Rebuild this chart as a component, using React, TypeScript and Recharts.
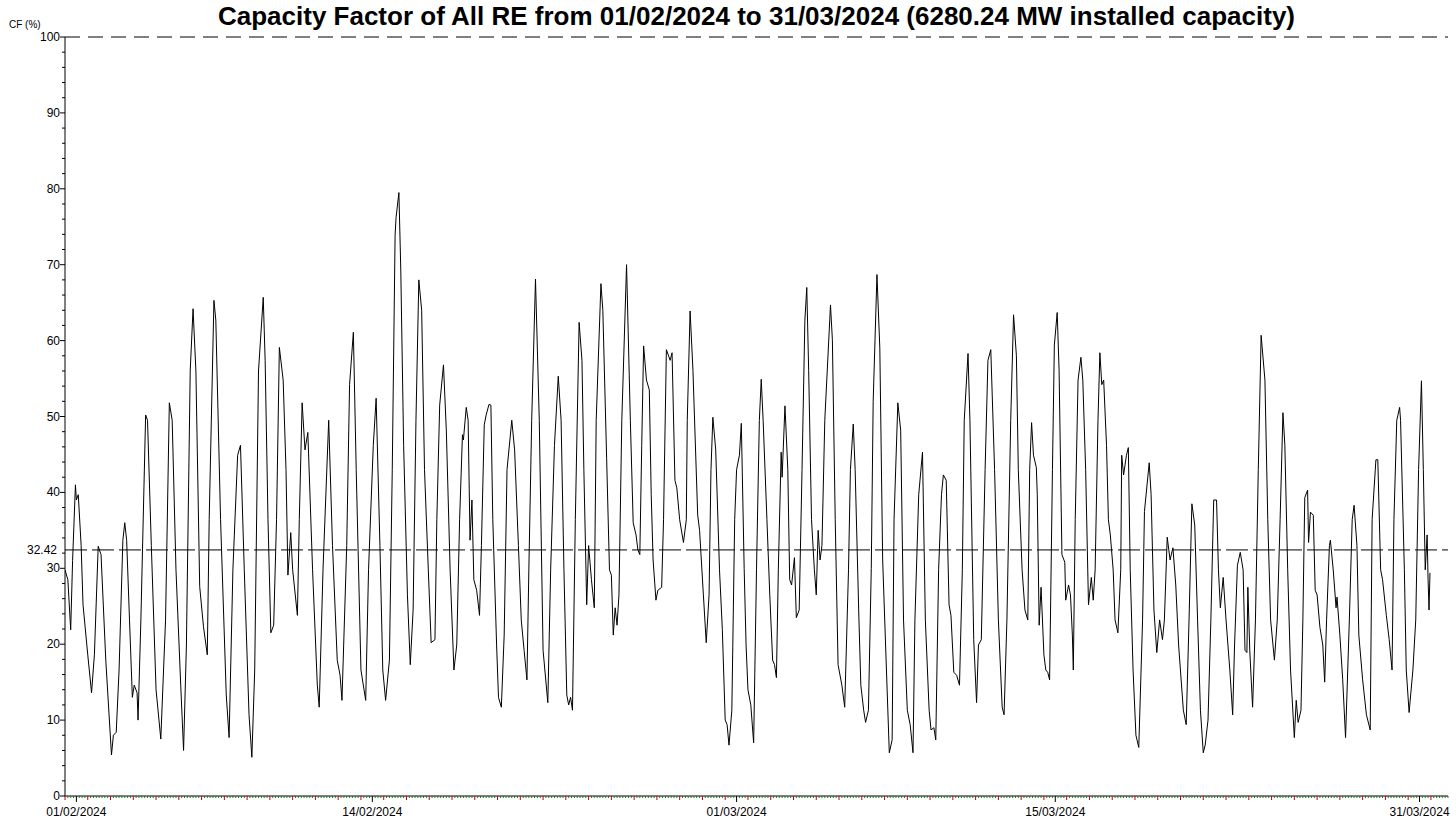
import { Line, LineChart, ReferenceLine, XAxis, YAxis } from "recharts";

// hours since 01/02/2024 00:00
const hours = [
  0, 3, 6, 8, 11, 12, 14, 17, 19, 24, 28, 31, 35, 38, 43, 49, 51, 54, 57, 61,
  63, 65, 68, 71, 73, 76, 77, 80, 85, 87, 91, 96, 101, 106, 110, 113, 117, 122, 125, 128,
  132, 135, 138, 142, 146, 150, 152, 157, 159, 164, 170, 173, 177, 182, 185, 189, 194, 197, 200, 204,
  209, 211, 214, 217, 220, 223, 226, 230, 233, 235, 238, 240, 245, 247, 250, 253, 256, 261, 266, 268,
  272, 278, 282, 287, 290, 292, 297, 300, 304, 307, 312, 317, 320, 325, 328, 332, 335, 338, 342, 345,
  348, 349, 352, 354, 357, 361, 364, 367, 370, 373, 376, 379, 383, 386, 390, 392, 395, 399, 402, 406,
  410, 413, 416, 419, 420, 423, 425, 427, 429, 431, 434, 437, 439, 442, 444, 447, 449, 451, 455, 457,
  460, 463, 466, 471, 474, 478, 481, 484, 487, 489, 492, 496, 500, 504, 509, 512, 516, 520, 523, 526,
  529, 531, 533, 535, 538, 542, 545, 547, 550, 552, 555, 558, 560, 565, 567, 571, 574, 576, 578, 580,
  582, 584, 587, 592, 596, 599, 602, 604, 606, 608, 610, 613, 616, 618, 620, 623, 625, 629, 631, 634,
  636, 638, 640, 643, 645, 648, 652, 655, 656, 659, 662, 667, 669, 673, 676, 679, 681, 683, 686, 690,
  693, 696, 698, 700, 703, 706, 708, 711, 713, 716, 718, 720, 723, 726, 729, 732, 734, 736, 740, 743,
  746, 748, 750, 752, 755, 756, 759, 762, 764, 766, 769, 771, 774, 777, 780, 782, 784, 787, 790, 792,
  794, 796, 798, 801, 807, 809, 812, 815, 819, 822, 826, 828, 831, 833, 837, 839, 842, 844, 847, 850,
  852, 856, 859, 862, 866, 869, 872, 874, 878, 881, 884, 888, 891, 894, 896, 900, 904, 907, 911, 913,
  916, 918, 921, 924, 926, 929, 932, 934, 937, 940, 943, 946, 948, 952, 954, 958, 961, 963, 966, 970,
  973, 976, 980, 984, 988, 990, 993, 997, 1000, 1003, 1005, 1009, 1012, 1015, 1017, 1019, 1021, 1024, 1025, 1027,
  1029, 1032, 1034, 1036, 1038, 1041, 1043, 1046, 1048, 1051, 1054, 1055, 1058, 1060, 1062, 1063, 1065, 1068, 1071, 1073,
  1076, 1079, 1082, 1084, 1086, 1089, 1091, 1093, 1095, 1098, 1100, 1102, 1105, 1107, 1110, 1113, 1114, 1116, 1119, 1121,
  1123, 1126, 1129, 1132, 1136, 1138, 1143, 1145, 1148, 1151, 1154, 1157, 1159, 1162, 1165, 1168, 1171, 1174, 1179, 1182,
  1185, 1188, 1191, 1194, 1197, 1200, 1202, 1205, 1208, 1211, 1214, 1216, 1218, 1221, 1224, 1226, 1228, 1231, 1233, 1236,
  1239, 1242, 1244, 1246, 1247, 1249, 1252, 1255, 1258, 1261, 1265, 1268, 1271, 1275, 1278, 1281, 1284, 1286, 1289, 1292,
  1296, 1298, 1300, 1303, 1305, 1307, 1310, 1311, 1313, 1316, 1318, 1320, 1323, 1326, 1328, 1330, 1333, 1334, 1337, 1340,
  1341, 1344, 1347, 1350, 1354, 1357, 1359, 1362, 1364, 1368, 1372, 1376, 1378, 1382, 1384, 1387, 1389, 1393, 1396, 1399,
  1401, 1404, 1407, 1408, 1412, 1414, 1417, 1421, 1424, 1427, 1430, 1432, 1434, 1436, 1437, 1438, 1439,
];

// capacity factor (%)
const cf = [
  29.8, 28.5, 21.9, 31, 41, 39, 39.7, 33, 25.2, 18.6, 13.6, 18.6, 32.9, 31.8, 17.9, 5.4, 8, 8.4, 16.6, 33.7,
  36, 33.7, 23.2, 13, 14.6, 13.6, 10, 23.2, 50.2, 49.5, 33, 14, 7.5, 23.2, 51.8, 49.5, 29.8, 14.6, 6, 19.9,
  56, 64.2, 56, 27.6, 22.3, 18.6, 36.4, 65.3, 62.7, 36.4, 13.3, 7.7, 29.8, 44.9, 46.2, 29.8, 10.7, 5.1, 16.6, 56,
  65.7, 57.4, 36.4, 21.5, 22.5, 36.4, 59.1, 54.8, 43, 29.1, 34.7, 29.8, 23.8, 36.4, 51.8, 45.6, 47.9, 29.8, 14.6, 11.7,
  29.8, 49.5, 33, 17.9, 15.9, 12.6, 33, 54.2, 61.1, 43, 16.6, 12.6, 29.8, 46.2, 52.4, 33, 16.6, 12.6, 17.9, 43,
  73.9, 76.2, 79.5, 69.3, 46.2, 26.5, 17.3, 24.5, 49.5, 68, 64, 43, 29.8, 20.2, 20.6, 36.4, 51.5, 56.8, 48.2, 29.8,
  16.6, 19.9, 36.4, 47.6, 46.9, 51.2, 49.5, 33.7, 39, 28.5, 27.1, 23.8, 33, 48.9, 50.2, 51.6, 51.5, 36.4, 19.9, 13,
  11.7, 21.2, 43, 49.5, 45.6, 33, 23.2, 19.2, 15.3, 29.8, 49.5, 68.1, 49.5, 19.2, 12.3, 29.8, 46.2, 55.3, 49.5, 29.8,
  13.3, 12, 13, 11.3, 36.4, 62.4, 57.4, 43, 25.2, 33, 28.5, 24.8, 49.5, 67.5, 64, 44.5, 29.8, 29.1, 21.2, 24.8,
  22.5, 26.5, 49.5, 70, 49.5, 36, 34.4, 32.4, 31.8, 46.2, 59.3, 54.8, 53.5, 39.7, 31.1, 25.8, 27.1, 27.5, 36.4, 58.8,
  58.1, 57.4, 58.4, 41.6, 40.6, 36.4, 33.4, 36.4, 49.5, 63.9, 56.1, 37, 35, 26.5, 20.2, 26.5, 43, 49.9, 45.6, 29.8,
  21.9, 10, 9.4, 6.7, 11.3, 36.4, 43, 44.9, 49.1, 30, 19.9, 14, 12, 7, 29.8, 49.5, 54.9, 49.5, 36.4, 26.5,
  17.9, 17.3, 15.6, 29.8, 45.3, 42, 51.4, 43, 28.5, 27.8, 31.4, 23.5, 24.5, 43, 62.7, 67, 56.1, 36.4, 29.8, 26.5,
  35, 31.1, 33, 49.5, 64.7, 60.1, 36.4, 17.3, 14.6, 11.7, 29.8, 43, 49, 43, 23.2, 14.6, 11.3, 9.7, 11.3, 30,
  52, 68.7, 59, 31.1, 16.6, 5.7, 7.4, 36.4, 51.8, 48.2, 23.2, 11.3, 9.4, 5.7, 23.2, 39.7, 45.3, 23.2, 11.3, 8.7,
  9, 7.4, 29.8, 39.7, 42.3, 41.6, 25.2, 23.8, 16.3, 15.9, 14.6, 29.8, 49.5, 58.3, 49.5, 20.6, 12.3, 19.9, 20.6, 43,
  57.4, 58.8, 43, 23.2, 11.7, 10.7, 23.2, 49.5, 63.4, 58, 43, 29.8, 24.5, 23.2, 43, 49.2, 44.9, 43.3, 39.7, 22.5,
  27.5, 18.6, 16.6, 16.3, 15.3, 43, 59.4, 63.7, 56.1, 31.8, 30.8, 25.8, 27.8, 26.5, 21.2, 16.6, 36.4, 54.8, 57.8, 54.8,
  43, 25.2, 28.8, 25.8, 29.8, 49.5, 58.4, 54.2, 54.8, 46.2, 36.4, 34.4, 29.8, 23.2, 21.5, 29.8, 44.9, 42.3, 44.9, 45.9,
  29.8, 16.6, 8, 6.4, 23.2, 37.5, 43.9, 39.7, 24.5, 18.9, 23.2, 20.6, 23.2, 34.1, 31.1, 32.7, 27.8, 19.9, 11.3, 9.4,
  23.2, 38.5, 35.7, 23.2, 11.3, 5.7, 6.7, 10, 23.2, 39, 39, 29.8, 24.8, 28.8, 23.2, 19.9, 16.6, 10.7, 19.9, 30.4,
  32.1, 29.8, 19.2, 18.9, 27.5, 19.2, 11.7, 23.2, 43, 60.7, 54.8, 36.4, 23.2, 17.9, 23.2, 36.4, 50.5, 46.2, 29.8, 16.6,
  7.7, 12.6, 9.7, 11.3, 23.2, 39.3, 40.3, 33.4, 37.4, 37, 27.1, 26.5, 22.2, 19.9, 15, 23.2, 33, 33.7, 29.8, 24.8,
  26.2, 21.2, 15.3, 7.7, 23.2, 36.4, 38.3, 33, 21.2, 15.3, 10.7, 8.7, 36.4, 44.3, 44.3, 29.8, 28.5, 23.8, 20.6, 16.6,
  36.4, 49.5, 51.2, 49.5, 29.8, 16.6, 11, 16.6, 23.2, 43, 54.7, 43, 29.8, 34.4, 28.5, 24.5, 29.4,
];

const meanCf = 32.42;
const dateLabels = ["01/02/2024", "14/02/2024", "01/03/2024", "15/03/2024", "31/03/2024"];
const dateLabelDays = [0, 13, 29, 43, 59];

const data = hours.map((h, i) => ({ h, cf: cf[i] }));

const maxHour = 1458;
const labelHours = dateLabelDays.map((d) => d * 24 + 12);
const xTicks: number[] = [];
for (let h = 0; h <= maxHour; h += 3) xTicks.push(h);
const yTicks: number[] = [];
for (let v = 0; v <= 100; v += 2) yTicks.push(v);

const font = "'Liberation Sans', Arial, sans-serif";

function XTick(props: any) {
  const { x, y, payload } = props;
  const h = payload.value;
  const idx = labelHours.indexOf(h);
  if (idx >= 0) {
    return (
      <g>
        <line x1={x} x2={x} y1={y} y2={y + 6} stroke="#000" />
        <text x={x} y={y + 20} textAnchor="middle" fontSize={12} fontFamily={font} fill="#000">
          {dateLabels[idx]}
        </text>
      </g>
    );
  }
  if (h % 24 === 0) {
    return <line x1={x} x2={x} y1={y} y2={y + 4} stroke="#c00000" />;
  }
  return <line x1={x} x2={x} y1={y} y2={y + 2} stroke="#1a7a1a" />;
}

function YTick(props: any) {
  const { x, y, payload } = props;
  const v = payload.value;
  const major = v % 10 === 0;
  return (
    <g>
      <line x1={x - (major ? 5 : 3)} x2={x} y1={y} y2={y} stroke="#000" />
      {major && (
        <text x={x - 5} y={y} dy={4} textAnchor="end" fontSize={12} fontFamily={font} fill="#000">
          {v}
        </text>
      )}
    </g>
  );
}

export default function App() {
  return (
    <div style={{ position: "absolute", left: 0, top: 0, width: 1456, height: 823, background: "#fff" }}>
      <div
        style={{
          position: "absolute",
          left: 65,
          top: 0,
          width: 1383,
          textAlign: "center",
          fontFamily: font,
          fontWeight: "bold",
          fontSize: 26,
          lineHeight: "32px",
          whiteSpace: "nowrap",
          color: "#000",
        }}
      >
        Capacity Factor of All RE from 01/02/2024 to 31/03/2024 (6280.24 MW installed capacity)
      </div>
      <div
        style={{
          position: "absolute",
          left: 9,
          top: 19,
          fontFamily: font,
          fontSize: 10,
          lineHeight: "12px",
          color: "#000",
        }}
      >
        CF (%)
      </div>
      <LineChart
        width={1456}
        height={823}
        data={data}
        margin={{ top: 37, right: 8, bottom: 0, left: 0 }}
      >
        <XAxis
          dataKey="h"
          type="number"
          domain={[0, maxHour]}
          ticks={xTicks}
          interval={0}
          tick={XTick}
          tickLine={false}
          tickSize={0}
          tickMargin={0}
          height={27}
          axisLine={{ stroke: "#000" }}
          allowDataOverflow
        />
        <YAxis
          type="number"
          domain={[0, 100]}
          ticks={yTicks}
          interval={0}
          tick={YTick}
          tickLine={false}
          tickSize={0}
          tickMargin={0}
          width={65}
          axisLine={{ stroke: "#000" }}
          allowDataOverflow
        />
        <ReferenceLine y={100} stroke="#000" strokeDasharray="15 8" />
        <ReferenceLine
          y={meanCf}
          stroke="#000"
          strokeDasharray="22 5"
          label={{ value: "32.42", position: "left", offset: 8, fontSize: 12, fill: "#000", fontFamily: font }}
        />
        <Line
          type="linear"
          dataKey="cf"
          stroke="#000"
          strokeWidth={1}
          dot={false}
          isAnimationActive={false}
        />
      </LineChart>
    </div>
  );
}
